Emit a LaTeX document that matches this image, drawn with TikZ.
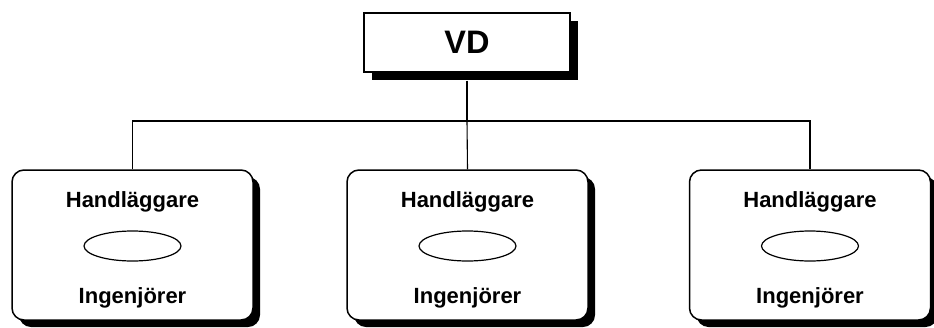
\documentclass[tikz,border=0pt]{standalone}
\usepackage{fontspec}
\setmainfont{Liberation Sans}
\usetikzlibrary{shapes.geometric}
\begin{document}
\begin{tikzpicture}[x=1pt,y=-1pt,
  unitbox/.style={draw=black,line width=1.5pt,fill=white,rounded corners=12pt,minimum width=241pt,minimum height=150pt,inner sep=0pt},
  unitshadow/.style={fill=black,rounded corners=12pt,minimum width=241pt,minimum height=150pt,inner sep=0pt},
  lbl/.style={font=\bfseries\fontsize{22}{25}\selectfont,inner sep=0pt},
  oval/.style={ellipse,draw=black,line width=1.2pt,minimum width=97pt,minimum height=30pt,inner sep=0pt},
  conn/.style={line width=1.1pt}]
\useasboundingbox (0,0) rectangle (934,327);
% VD box
\node[fill=black,minimum width=206pt,minimum height=59pt,inner sep=0pt] at (475,50.5) {};
\node[draw=black,line width=1.3pt,fill=white,minimum width=206pt,minimum height=59pt,inner sep=0pt] (vd) at (467,42.5) {};
\node[font=\bfseries\fontsize{32.5}{36}\selectfont] at (vd) {VD};
% units
\foreach \n/\cx in {a/132.5,b/467.5,c/810}{
  \node[unitshadow] at (\cx+7,252) {};
  \node[unitbox] (\n) at (\cx,245) {};
  \node[lbl] (\n h) at (\cx,202) {Handläggare};
  \node[oval] (\n o) at (\cx,246) {};
  \node[lbl] (\n i) at (\cx,298) {Ingenjörer};
}
\coordinate (bus) at (467,121);
\draw[conn] (vd.south) ++(0,8) -- (bus);
\draw[conn] (a.north) |- (bus) -| (c.north);
\draw[conn] (bus) -- (b.north);
\end{tikzpicture}
\end{document}
